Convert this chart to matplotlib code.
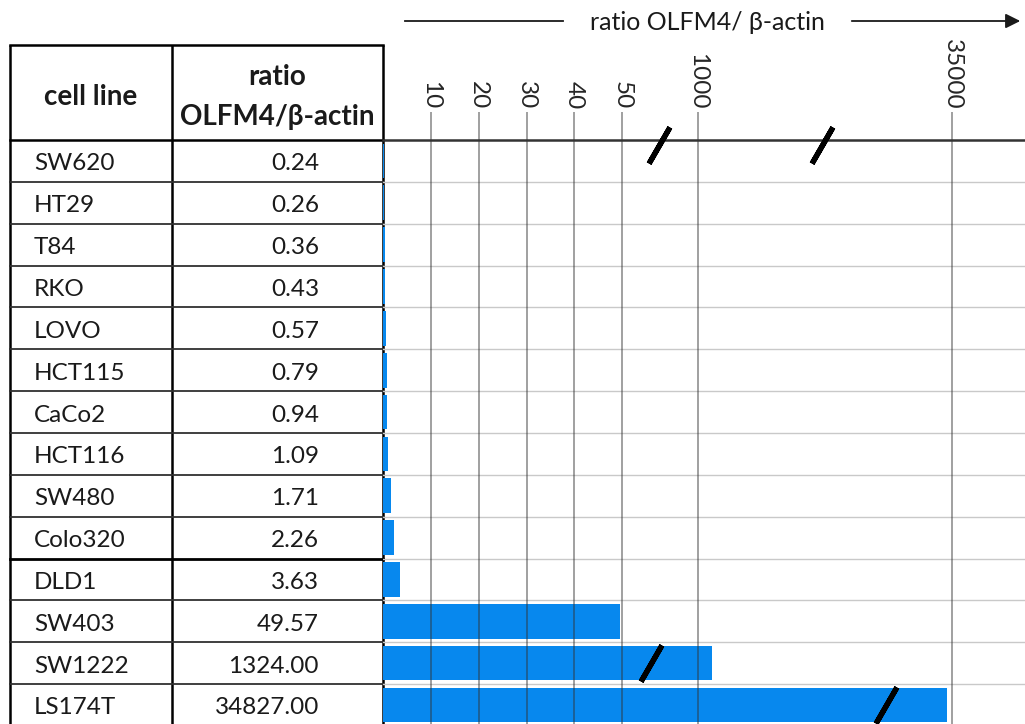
import numpy as np
import matplotlib
matplotlib.use('Agg')
import matplotlib.pyplot as plt

# --- data ---
cell_lines = ['SW620', 'HT29', 'T84', 'RKO', 'LOVO', 'HCT115', 'CaCo2', 'HCT116',
              'SW480', 'Colo320', 'DLD1', 'SW403', 'SW1222', 'LS174T']
ratios = [0.24, 0.26, 0.36, 0.43, 0.57, 0.79, 0.94, 1.09,
          1.71, 2.26, 3.63, 49.57, 1324.00, 34827.00]
tick_values = [10, 20, 30, 40, 50, 1000, 35000]
tick_labels = ['10', '20', '30', '40', '50', '1000', '35000']
# break slashes drawn on bars: (row index, ratio value where the slash sits)
bar_breaks = [(12, 56), (13, 32800)]

# broken x axis: piecewise linear scale (data value -> relative position)
data_knots = [-1000, 0, 57.7, 123, 3819, 30667, 37433, 1e6]
pos_knots = [-4780, 0, 276, 276.01, 439, 439.01, 642, 642 + (1e6 - 37433) * 0.03]
header_breaks = [90, 30000]  # where the slashes sit on the axis line

def fwd(x):
    return np.interp(x, data_knots, pos_knots)

def inv(p):
    return np.interp(p, pos_knots, data_knots)

W, H = 1025, 724
ROW_H = 41.85
HEAD_Y = 140
X0 = 383
BLUE = '#0788EE'
TXT = '#1a1a1a'
FONT = 'Lato'
FS = 17.5
FS_HEAD = 20

plt.rcParams['font.family'] = [FONT, 'DejaVu Sans']

fig = plt.figure(figsize=(W / 100, H / 100), dpi=100)
fig.patch.set_facecolor('white')

# overlay in pixel coordinates for the table and the title arrow
ax0 = fig.add_axes([0, 0, 1, 1])
ax0.set_xlim(0, W)
ax0.set_ylim(H, 0)
ax0.axis('off')

# table frame
for x in [10, 172, X0]:
    ax0.plot([x, x], [45, H], color='black', lw=1.8, solid_capstyle='butt')
ax0.plot([10, X0], [45, 45], color='black', lw=1.8)
ax0.plot([10, X0], [HEAD_Y, HEAD_Y], color='black', lw=1.8)
for k in range(1, len(cell_lines)):
    y = HEAD_Y + ROW_H * k
    if k == 10:
        ax0.plot([10, X0], [y, y], color='black', lw=2.0)
    else:
        ax0.plot([10, X0], [y, y], color='#303030', lw=1.3)

ax0.text(91, 97, 'cell line', ha='center', va='center', fontsize=FS_HEAD,
         fontweight='bold', color=TXT)
ax0.text(277, 77, 'ratio', ha='center', va='center', fontsize=FS_HEAD,
         fontweight='bold', color=TXT)
ax0.text(277, 117, 'OLFM4/β-actin', ha='center', va='center', fontsize=FS_HEAD,
         fontweight='bold', color=TXT)

for i, (name, r) in enumerate(zip(cell_lines, ratios)):
    yc = HEAD_Y + ROW_H * (i + 0.5) + 3
    ax0.text(34, yc, name, ha='left', va='center', fontsize=FS, color=TXT)
    ax0.text(319, yc, f'{r:.2f}', ha='right', va='center', fontsize=FS, color=TXT)

# axis title with arrow
ax0.text(707, 22, 'ratio OLFM4/ β-actin', ha='center', va='center',
         fontsize=18, color=TXT)
ax0.plot([405, 563], [21, 21], color=TXT, lw=1.3)
ax0.annotate('', xy=(1023, 21), xytext=(849, 21),
             arrowprops=dict(arrowstyle='-|>', color=TXT, lw=1.3,
                             mutation_scale=22))

# --- bar chart ---
ax = fig.add_axes([X0 / W, 0, (W - X0) / W, (H - HEAD_Y) / H])
ax.set_facecolor('none')
ax.set_xscale('function', functions=(fwd, inv))
ax.set_xlim(0, 37433)
ax.set_ylim(-0.5 + (H - HEAD_Y) / ROW_H, -0.5)

rows = np.arange(len(cell_lines))
ax.barh(rows, ratios, height=0.83, color=BLUE, zorder=2)

for k in range(1, len(cell_lines)):
    ax.axhline(k - 0.5, color='#c9c9c9', lw=1.0, zorder=1)

ax.vlines(tick_values, 0, 1 + 28 / (H - HEAD_Y), transform=ax.get_xaxis_transform(),
          colors='#333333', alpha=0.5, lw=1.3, clip_on=False, zorder=3)

ax.xaxis.tick_top()
ax.set_xticks(tick_values)
ax.set_xticklabels(tick_labels, rotation=270, fontsize=FS, color='#262626')
ax.tick_params(axis='x', length=0, pad=22)
ax.set_yticks([])
for s in ['left', 'right', 'bottom']:
    ax.spines[s].set_visible(False)
ax.spines['top'].set_color('#333333')
ax.spines['top'].set_linewidth(1.8)

slash = (2, 2, -30)
ax.plot(header_breaks, [-0.38] * len(header_breaks), ls='none', marker=slash,
        ms=30, mew=3.8, mec='black', clip_on=False, zorder=5)
for row, xv in bar_breaks:
    ax.plot([xv], [row], ls='none', marker=slash, ms=30, mew=3.8, mec='black',
            clip_on=False, zorder=5)

fig.savefig('out.png', dpi=100, facecolor='white')
